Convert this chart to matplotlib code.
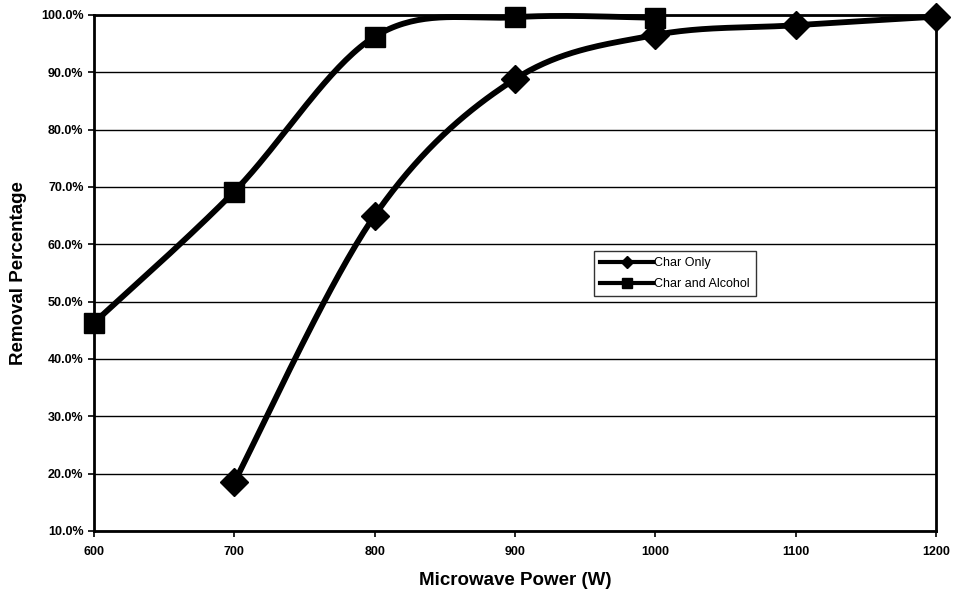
import numpy as np
import matplotlib
matplotlib.use('Agg')
import matplotlib.pyplot as plt
from matplotlib.ticker import FuncFormatter

plt.rcParams['font.family'] = ['Liberation Sans', 'DejaVu Sans']

# Données
power_char = [700, 800, 900, 1000, 1100, 1200]
removal_char = [18.5, 65.0, 88.8, 96.5, 98.2, 99.7]

power_alc = [600, 700, 800, 900, 1000]
removal_alc = [46.3, 69.2, 96.2, 99.6, 99.5]

y_ticks = [10, 20, 30, 40, 50, 60, 70, 80, 90, 100]
x_ticks = [600, 700, 800, 900, 1000, 1100, 1200]


# Courbe lissée façon Excel (Catmull-Rom), pour le tracé seulement
def smooth(x, y, n=40):
    x = np.asarray(x, float)
    y = np.asarray(y, float)
    px = np.concatenate([[x[0]], x, [x[-1]]])
    py = np.concatenate([[y[0]], y, [y[-1]]])
    xs, ys = [], []
    t = np.linspace(0, 1, n)
    for i in range(1, len(px) - 2):
        p0x, p1x, p2x, p3x = px[i - 1], px[i], px[i + 1], px[i + 2]
        p0y, p1y, p2y, p3y = py[i - 1], py[i], py[i + 1], py[i + 2]
        c1x = p1x + (p2x - p0x) / 6
        c1y = p1y + (p2y - p0y) / 6
        c2x = p2x - (p3x - p1x) / 6
        c2y = p2y - (p3y - p1y) / 6
        bx = (1 - t)**3 * p1x + 3 * (1 - t)**2 * t * c1x + 3 * (1 - t) * t**2 * c2x + t**3 * p2x
        by = (1 - t)**3 * p1y + 3 * (1 - t)**2 * t * c1y + 3 * (1 - t) * t**2 * c2y + t**3 * p2y
        xs.extend(bx)
        ys.extend(by)
    return np.array(xs), np.array(ys)


fig = plt.figure(figsize=(9.54, 5.97), dpi=100)
ax = fig.add_axes([0.0985, 0.1106, 0.8825, 0.8644])

ax.set_xlim(600, 1200)
ax.set_ylim(10, 100)
ax.set_yticks(y_ticks)
ax.set_xticks(x_ticks)
ax.yaxis.set_major_formatter(FuncFormatter(lambda v, p: f'{v:.1f}%'))
ax.grid(axis='y', color='black', linewidth=1.0)
ax.set_axisbelow(True)

for s in ax.spines.values():
    s.set_linewidth(2.0)
    s.set_color('black')
ax.tick_params(axis='both', length=4, width=1.2, labelsize=9, color='black')
ax.tick_params(axis='x', pad=7)
for lab in ax.get_xticklabels() + ax.get_yticklabels():
    lab.set_fontweight('bold')

# Courbes
sx, sy = smooth(power_char, removal_char)
ax.plot(sx, sy, color='black', linewidth=4.2, solid_capstyle='round', clip_on=False)
ax.plot(power_char, removal_char, linestyle='none', marker='D', markersize=14,
        color='black', clip_on=False, zorder=5)

sx, sy = smooth(power_alc, removal_alc)
ax.plot(sx, sy, color='black', linewidth=4.2, solid_capstyle='round', clip_on=False)
ax.plot(power_alc, removal_alc, linestyle='none', marker='s', markersize=15,
        color='black', clip_on=False, zorder=5)

# Légende
h1, = ax.plot([], [], color='black', linewidth=3, marker='D', markersize=6)
h2, = ax.plot([], [], color='black', linewidth=3, marker='s', markersize=7)
leg = ax.legend([h1, h2], ['Char Only', 'Char and Alcohol'],
                loc='lower left', bbox_to_anchor=(0.594, 0.455),
                frameon=True, fancybox=False, fontsize=9,
                handlelength=4.2, handletextpad=0.1, borderpad=0.5,
                labelspacing=0.7, borderaxespad=0)
leg.get_frame().set_edgecolor('black')
leg.get_frame().set_linewidth(1.0)

ax.set_xlabel('Microwave Power (W)', fontsize=13.5, fontweight='bold', labelpad=10)
ax.set_ylabel('Removal Percentage', fontsize=13.5, fontweight='bold', labelpad=10)

fig.savefig('out.png', dpi=100)
